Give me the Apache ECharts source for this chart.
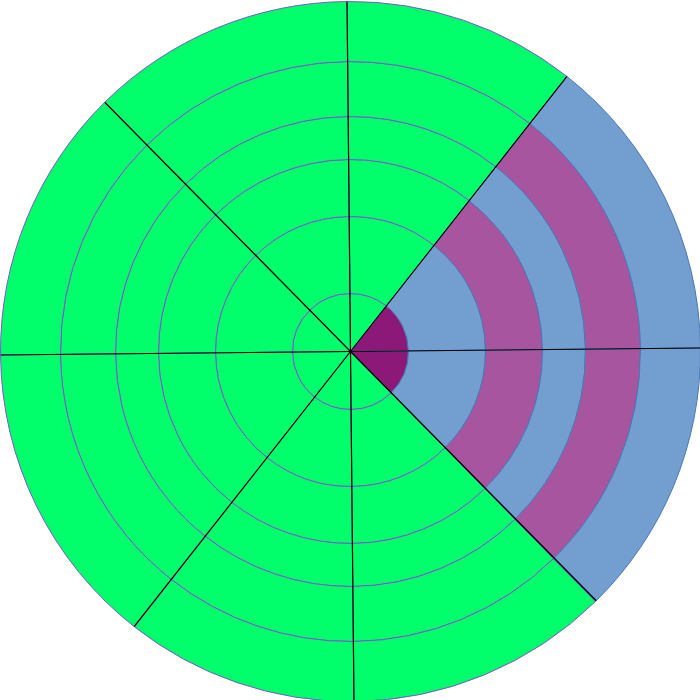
<!DOCTYPE html>
<html><head><meta charset="utf-8">
<script src="https://cdn.jsdelivr.net/npm/echarts@6/dist/echarts.min.js"></script>
<style>html,body{margin:0;padding:0;background:#fff}#c{width:700px;height:700px}</style>
</head><body><div id="c"></div>
<script>
// Ring boundaries (radius-axis values)
const ringEdges = [0, 58, 135, 192, 235, 290, 350];
// Ray angles (angle-axis degrees, counter-clockwise from east); sector i spans ray i -> ray i+1
const rayAngles = [0.57, 51.8, 90.57, 134.6, 180.57, 231.9, 270.57, 314.4];
// Sectors that carry the coloured bands
const highlightedSectors = [0, 7];
// Tone of each ring inside the highlighted sectors (inner -> outer)
const ringTones = ['core', 'sky', 'plum', 'sky', 'plum', 'sky'];
// Diameter lines drawn over the chart (angle of one end)
const diameterAngles = [0.57, 51.8, 90.57, 134.6];

const fills = { base: '#00ff6a', core: '#8c1878', sky: '#729fcf', plum: '#a855a0' };
const borders = { base: '#8552d2', hi: '#4a76b6' };

const cells = [];
for (let s = 0; s < rayAngles.length; s++) {
  const hi = highlightedSectors.indexOf(s) >= 0;
  for (let k = 0; k < ringEdges.length - 1; k++) {
    cells.push({
      value: [ringEdges[k], ringEdges[k + 1], rayAngles[s], rayAngles[(s + 1) % rayAngles.length]],
      tone: hi ? ringTones[k] : 'base',
      hi: hi
    });
  }
}

const chart = echarts.init(document.getElementById('c'), null, { renderer: 'canvas' });
const hidden = { show: false };
chart.setOption({
  animation: false,
  polar: { center: [350.5, 351.5], radius: 350 },
  angleAxis: {
    type: 'value', min: 0, max: 360, startAngle: 0, clockwise: false,
    axisLine: hidden, axisTick: hidden, axisLabel: hidden, splitLine: hidden
  },
  radiusAxis: {
    type: 'value', min: 0, max: 350,
    axisLine: hidden, axisTick: hidden, axisLabel: hidden, splitLine: hidden
  },
  series: [
    {
      type: 'custom',
      coordinateSystem: 'polar',
      silent: true,
      encode: { radius: [0, 1], angle: [2, 3] },
      data: cells.map(c => c.value),
      renderItem: function (params, api) {
        const cs = params.coordSys;
        const cell = cells[params.dataIndex];
        const r0v = api.value(0), r1v = api.value(1), a0v = api.value(2), a1v = api.value(3);
        const pIn = api.coord([r0v, a0v]);
        const pA = api.coord([r1v, a0v]);
        const pB = api.coord([r1v, a1v]);
        const rIn = Math.hypot(pIn[0] - cs.cx, pIn[1] - cs.cy);
        const rOut = Math.hypot(pA[0] - cs.cx, pA[1] - cs.cy);
        const angA = Math.atan2(pA[1] - cs.cy, pA[0] - cs.cx);
        const angB = Math.atan2(pB[1] - cs.cy, pB[0] - cs.cx);
        let start = angB, end = angA;
        while (end <= start) end += Math.PI * 2;
        return {
          type: 'sector',
          shape: { cx: cs.cx, cy: cs.cy, r0: rIn, r: rOut, startAngle: start, endAngle: end, clockwise: true },
          style: {
            fill: fills[cell.tone],
            stroke: cell.hi ? borders.hi : borders.base,
            lineWidth: 1
          }
        };
      },
      z: 1
    }
  ].concat(diameterAngles.map(a => ({
    type: 'line',
    coordinateSystem: 'polar',
    silent: true,
    symbol: 'none',
    lineStyle: { color: '#000', width: 1.2 },
    data: [[350, a], [0, a], [350, a + 180]],
    z: 5
  })))
});
</script>
</body></html>
